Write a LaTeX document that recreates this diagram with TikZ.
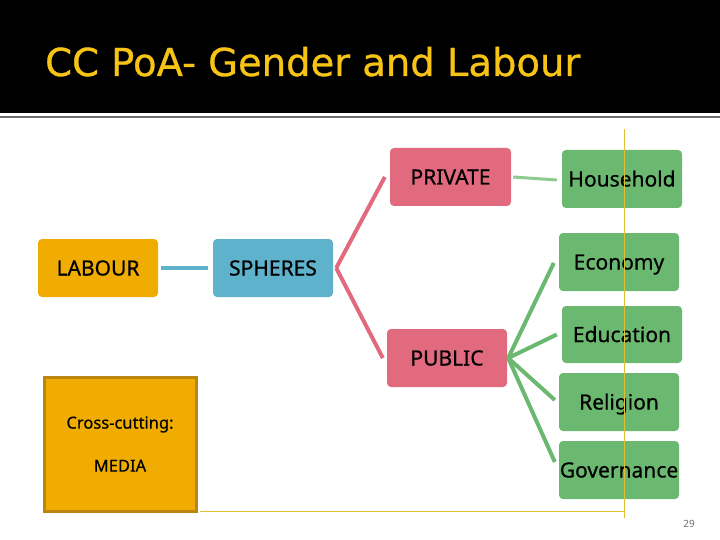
\documentclass[tikz,border=0pt]{standalone}
\usepackage{fontspec}
\setmainfont{Noto Sans}
\newfontfamily\titlefont{DejaVu Sans}
\definecolor{titlegold}{RGB}{247,196,22}
\definecolor{labourorange}{RGB}{240,172,0}
\definecolor{borderbrown}{RGB}{186,134,14}
\definecolor{sphblue}{RGB}{94,178,204}
\definecolor{pinkbox}{RGB}{226,106,126}
\definecolor{greenbox}{RGB}{107,184,112}
\definecolor{lightgreen}{RGB}{140,202,142}
\definecolor{guideyellow}{RGB}{226,190,50}
\definecolor{rulegray}{RGB}{110,110,110}
\tikzset{
  boxnode/.style={rectangle, rounded corners=4pt, minimum width=120pt, minimum height=58pt,
    inner sep=0pt, text=black, text height=15pt, text depth=0pt,
    font=\addfontfeature{FakeBold=0.6}\fontsize{21}{25}\selectfont},
  pinkline/.style={draw=pinkbox, line width=4pt},
  greenline/.style={draw=greenbox, line width=4pt},
  guide/.style={draw=guideyellow, line width=1pt}
}
\begin{document}
\begin{tikzpicture}[x=1pt, y=-1pt]
\useasboundingbox (0,0) rectangle (720,540);
% banner
\fill[black] (0,0) rectangle (720,113);
\draw[rulegray, line width=1.5pt] (0,117) -- (720,117);
\node[anchor=base west, text=titlegold, font=\titlefont\addfontfeature{FakeBold=0.8}\fontsize{38.5}{44}\selectfont, inner sep=0pt] (title) at (45,76) {CC PoA- Gender and Labour};
% nodes
\node[boxnode, fill=labourorange] (labour) at (98,268) {LABOUR};
\node[boxnode, fill=sphblue] (spheres) at (273,268) {SPHERES};
\node[boxnode, fill=pinkbox, minimum width=121pt] (private) at (450.5,177) {PRIVATE};
\node[boxnode, fill=pinkbox] (public) at (447,358) {PUBLIC};
\node[boxnode, fill=greenbox] (household) at (622,179) {Household};
\node[boxnode, fill=greenbox] (economy) at (619,262) {Economy};
\node[boxnode, fill=greenbox, minimum height=57pt] (education) at (622,334.5) {Education};
\node[boxnode, fill=greenbox] (religion) at (619,402) {Religion};
\node[boxnode, fill=greenbox] (governance) at (619,470) {Governance};
% cross-cutting box
\node[rectangle, fill=labourorange, draw=borderbrown, line width=3pt, minimum width=152pt, minimum height=134pt, inner sep=0pt,
  font=\addfontfeature{FakeBold=0.4}\fontsize{16.5}{20}\selectfont, align=center] (media) at (120,444) {Cross-cutting:\\[23pt]MEDIA};
% connectors
\draw[draw=sphblue, line width=3.5pt] ([xshift=3pt]labour.east) -- ([xshift=-5pt]spheres.west);
\draw[pinkline] ([xshift=3pt]spheres.east) -- ([xshift=-5pt]private.west);
\draw[pinkline] ([xshift=3pt]spheres.east) -- ([xshift=-4pt]public.west);
\draw[draw=lightgreen, line width=3pt] ([xshift=2pt]private.east) -- ([xshift=-5pt,yshift=-1pt]household.west);
\draw[greenline] ([xshift=1pt]public.east) -- ([xshift=-5pt,yshift=-1pt]economy.west);
\draw[greenline] ([xshift=1pt]public.east) -- ([xshift=-5pt]education.west);
\draw[greenline] ([xshift=1pt]public.east) -- ([xshift=-4pt,yshift=2pt]religion.west);
\draw[greenline] ([xshift=1pt]public.east) -- ([xshift=-4pt,yshift=8pt]governance.west);
% guide lines
\coordinate (vtop) at (624,129);
\coordinate (corner) at (624,511);
\coordinate (vbottom) at (624,518);
\coordinate (hleft) at (200,511);
\draw[guide] (vtop) -- (vbottom);
\draw[guide] (hleft) -- (corner);
% page number
\node[text=rulegray, font=\fontsize{10}{12}\selectfont, inner sep=0pt] (pagenum) at (689,524) {29};
\end{tikzpicture}
\end{document}
